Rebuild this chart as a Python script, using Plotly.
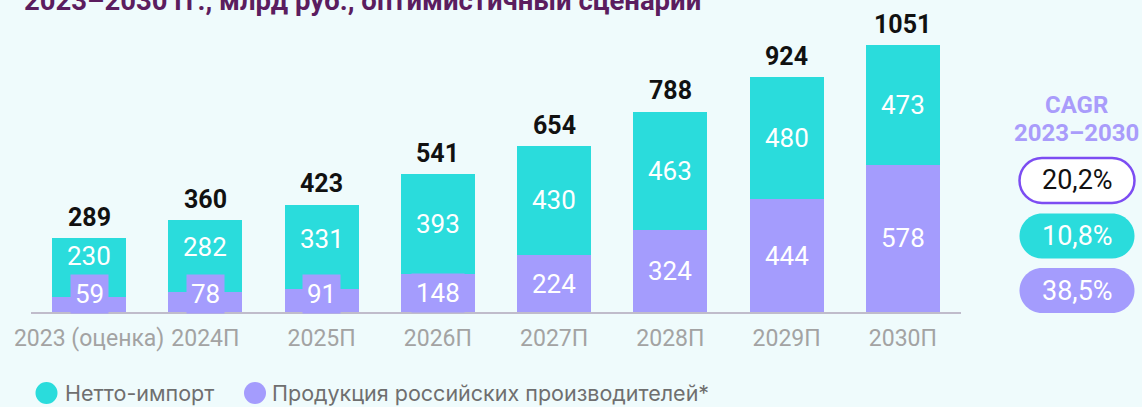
import plotly.graph_objects as go

# ---------------- data ----------------
categories = ["2023 (оценка)", "2024П", "2025П", "2026П", "2027П", "2028П", "2029П", "2030П"]
russian_production = [59, 78, 91, 148, 224, 324, 444, 578]
net_import = [230, 282, 331, 393, 430, 463, 480, 473]
totals = [289, 360, 423, 541, 654, 788, 924, 1051]
series_names = ["Нетто-импорт", "Продукция российских производителей*"]
cagr_title_lines = ["CAGR", "2023–2030"]
cagr_labels = ["20,2%", "10,8%", "38,5%"]
title_text = "2023–2030 гг., млрд руб., оптимистичный сценарий"

# ---------------- styles ----------------
CYAN = "#2adcdc"
PURPLE = "#a49cfd"
BG = "#effbfc"
FONT = "Roboto"

W_FIG, H_FIG = 1142, 407
L, R, T, B = 31, 181, 0, 95
PW, PH = W_FIG - L - R, H_FIG - T - B
YMAX = 1226


def px_x(p):
    return (p - L) / PW


def px_y(p):
    return (PH + T - p) / PH


fig = go.Figure()
fig.add_trace(go.Bar(x=categories, y=russian_production, name=series_names[1], marker_color=PURPLE,
                     marker_line_width=0, showlegend=False, hoverinfo="skip"))
fig.add_trace(go.Bar(x=categories, y=net_import, name=series_names[0], marker_color=CYAN,
                     marker_line_width=0, showlegend=False, hoverinfo="skip"))

ann = []
shapes = []
units_per_px = YMAX / PH
for cat, rp, ni, tot in zip(categories, russian_production, net_import, totals):
    y_bottom = max(rp / 2, 72)
    box_top = y_bottom + 20 * units_per_px
    y_top = (tot + max(box_top, rp)) / 2
    ann.append(dict(x=cat, y=y_bottom, xref="x", yref="y", text=str(rp), showarrow=False,
                    font=dict(family=FONT, size=26, color="white"),
                    bgcolor=PURPLE, borderpad=4, yanchor="middle"))
    ann.append(dict(x=cat, y=y_top, xref="x", yref="y", text=str(ni), showarrow=False,
                    font=dict(family=FONT, size=26, color="white"), yanchor="middle"))
    ann.append(dict(x=cat, y=tot, xref="x", yref="y", text="<b>%d</b>" % tot, showarrow=False,
                    font=dict(family=FONT, size=25, color="#111111"), yanchor="bottom", yshift=4))

# title (cut off at the top as in the reference)
ann.append(dict(x=px_x(22), y=px_y(0.5), xref="paper", yref="paper", xanchor="left", yanchor="middle",
                text="<b>" + title_text + "</b>", showarrow=False,
                font=dict(family=FONT, size=27.5, color="#5b1d5f")))

# CAGR block
for line, cy in zip(cagr_title_lines, [105, 133]):
    ann.append(dict(x=px_x(1076), y=px_y(cy), xref="paper", yref="paper", xanchor="center", yanchor="middle",
                    text="<b>" + line + "</b>", showarrow=False,
                    font=dict(family=FONT, size=24, color="#a99cfb")))

pill_centers = [180.5, 236, 290.5]
pill_fill = ["white", CYAN, PURPLE]
pill_line = ["#7c4df2", CYAN, PURPLE]
pill_text = ["#111111", "white", "white"]
a, b = 57.5, 22.5
r = b
k = 0.5523 * r
path = (f"M {-a + r},{-b} L {a - r},{-b} "
        f"C {a - r + k},{-b} {a},{-k} {a},0 "
        f"C {a},{k} {a - r + k},{b} {a - r},{b} "
        f"L {-a + r},{b} "
        f"C {-a + r - k},{b} {-a},{k} {-a},0 "
        f"C {-a},{-k} {-a + r - k},{-b} {-a + r},{-b} Z")
for cy, fcol, lcol, tcol, lab in zip(pill_centers, pill_fill, pill_line, pill_text, cagr_labels):
    shapes.append(dict(type="path", xref="paper", yref="paper", xsizemode="pixel", ysizemode="pixel",
                       xanchor=px_x(1077), yanchor=px_y(cy), path=path,
                       fillcolor=fcol, line=dict(color=lcol, width=2.5 if fcol == "white" else 0)))
    ann.append(dict(x=px_x(1077), y=px_y(cy), xref="paper", yref="paper", xanchor="center", yanchor="middle",
                    text=lab, showarrow=False, font=dict(family=FONT, size=27, color=tcol)))

# legend drawn as circles + labels
legend_items = [(series_names[0], CYAN, 46.5, 63), (series_names[1], PURPLE, 255, 270)]
rad = 11
for name, col, cx, tx in legend_items:
    shapes.append(dict(type="circle", xref="paper", yref="paper", xsizemode="pixel", ysizemode="pixel",
                       xanchor=px_x(cx), yanchor=px_y(393), x0=-rad, x1=rad, y0=-rad, y1=rad,
                       fillcolor=col, line=dict(width=0)))
    ann.append(dict(x=px_x(tx), y=px_y(393), xref="paper", yref="paper", xanchor="left", yanchor="middle",
                    text=name, showarrow=False, font=dict(family="Inter", size=21.5, color="#6f6f6f")))

fig.update_layout(
    width=W_FIG, height=H_FIG,
    margin=dict(l=L, r=R, t=T, b=B, pad=0),
    paper_bgcolor=BG, plot_bgcolor="rgba(0,0,0,0)",
    barmode="stack", bargap=0.364,
    font=dict(family=FONT),
    showlegend=False,
    annotations=ann, shapes=shapes,
    xaxis=dict(showgrid=False, zeroline=False, showline=True, linecolor="#c0bccb", linewidth=2,
               ticks="", tickfont=dict(family=FONT, size=23, color="#a3a3a3"),
               ticklabelstandoff=4, fixedrange=True, automargin=False),
    yaxis=dict(range=[0, YMAX], visible=False, fixedrange=True),
)

fig.write_html("out.html", config={"displayModeBar": False},
               post_script="document.body.style.margin='0';document.body.style.background='%s';" % BG)
